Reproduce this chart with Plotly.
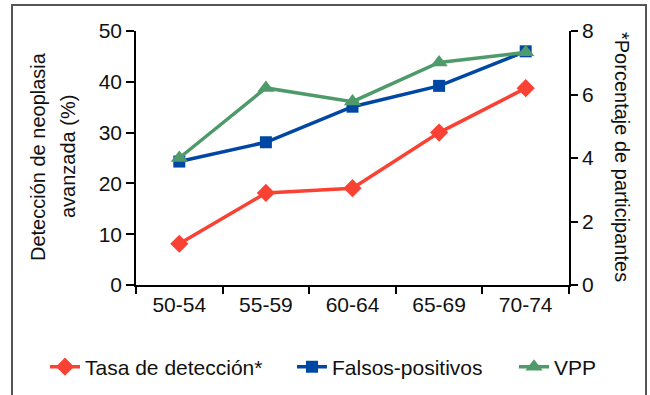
import plotly.graph_objects as go

categorias = ["50-54", "55-59", "60-64", "65-69", "70-74"]
tasa_deteccion = [1.3, 2.9, 3.05, 4.8, 6.2]      # % de participantes (eje derecho)
falsos_positivos = [24.3, 28.1, 35.1, 39.2, 46.0]  # eje izquierdo
vpp = [25.0, 38.8, 36.1, 43.8, 45.8]              # eje izquierdo

y_left_ticks = [0, 10, 20, 30, 40, 50]
y_right_ticks = [0, 2, 4, 6, 8]

RED = "#fa4234"
BLUE = "#0047a3"
GREEN = "#4f9a6b"
FONT = "Liberation Sans, Arial, Helvetica, sans-serif"
FS = 21

fig = go.Figure()
fig.add_trace(go.Scatter(
    x=categorias, y=tasa_deteccion, name="Tasa de detección*", yaxis="y2",
    mode="lines+markers", line=dict(color=RED, width=3.5),
    marker=dict(symbol="diamond", size=14, color=RED), legend="legend", showlegend=True))
fig.add_trace(go.Scatter(
    x=categorias, y=falsos_positivos, name="Falsos-positivos",
    mode="lines+markers", line=dict(color=BLUE, width=3.5),
    marker=dict(symbol="square", size=12, color=BLUE), legend="legend2", showlegend=True))
fig.add_trace(go.Scatter(
    x=categorias, y=vpp, name="VPP",
    mode="lines+markers", line=dict(color=GREEN, width=3.5),
    marker=dict(symbol="triangle-up", size=15, color=GREEN), legend="legend3", showlegend=True))

W, H = 650, 395
L, R, T, B = 136, 81, 31, 110

leg_common = dict(orientation="h", xref="container", yref="container",
                  yanchor="middle", xanchor="left", bgcolor="rgba(0,0,0,0)",
                  font=dict(family=FONT, size=FS, color="#111"))

fig.update_layout(
    width=W, height=H, autosize=False, showlegend=True,
    margin=dict(l=L, r=R, t=T, b=B),
    paper_bgcolor="white", plot_bgcolor="white",
    font=dict(family=FONT, size=FS, color="#111"),
    xaxis=dict(type="category", range=[-0.5, 4.5], tickson="boundaries",
               ticks="outside", ticklen=7, tickwidth=1.5, tickcolor="black",
               showline=True, linecolor="black", linewidth=1.5,
               showgrid=False, zeroline=False,
               tickfont=dict(family=FONT, size=FS, color="#111")),
    yaxis=dict(range=[0, 50], tickvals=y_left_ticks, ticks="outside", ticklen=8,
               tickwidth=1.5, tickcolor="black", showline=True, linecolor="black",
               linewidth=1.5, showgrid=False, zeroline=False,
               tickfont=dict(family=FONT, size=FS, color="#111")),
    yaxis2=dict(range=[0, 8], tickvals=y_right_ticks, overlaying="y", side="right",
                ticks="outside", ticklen=7, tickwidth=1.5, tickcolor="black",
                showline=True, linecolor="black", linewidth=1.5,
                showgrid=False, zeroline=False,
                tickfont=dict(family=FONT, size=FS, color="#111")),
    legend=dict(x=45 / W, y=1 - 367 / H, **leg_common),
    legend2=dict(x=292 / W, y=1 - 367 / H, **leg_common),
    legend3=dict(x=514 / W, y=1 - 367 / H, **leg_common),
)

pw = W - L - R
ph = H - T - B

def px_x(px):
    return (px - L) / pw

def px_y(py):
    return (H - B - py) / ph

for txt, cx, ang in [("Detección de neoplasia", 38, -90),
                     ("avanzada (%)", 68, -90),
                     ("*Porcentaje de participantes", 622, 90)]:
    fig.add_annotation(text=txt, xref="paper", yref="paper",
                       x=px_x(cx), y=px_y(157), textangle=ang, showarrow=False,
                       xanchor="center", yanchor="middle",
                       font=dict(family=FONT, size=FS - 1, color="#111"))

fig.add_shape(type="rect", xref="paper", yref="paper",
              x0=px_x(12), x1=px_x(646), y0=px_y(420), y1=px_y(5),
              line=dict(color="#555", width=2), fillcolor="rgba(0,0,0,0)", layer="below")

fig.write_html("out.html")
